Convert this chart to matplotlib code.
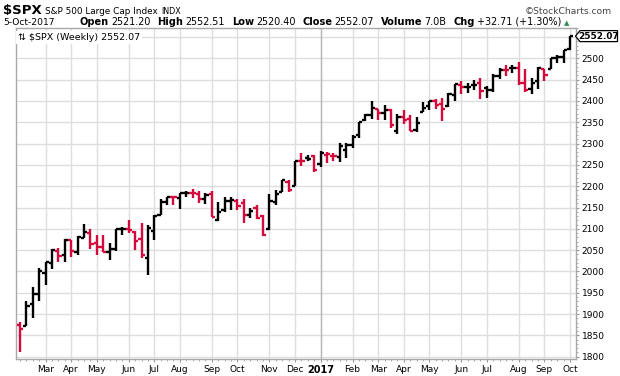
import numpy as np
import pandas as pd
import matplotlib
matplotlib.use('Agg')
import matplotlib.pyplot as plt
from matplotlib.patches import Polygon

# weekly bars of $SPX, dated by the last trading day of each week
dates = ['2016-02-12', '2016-02-19', '2016-02-26', '2016-03-04', '2016-03-11', '2016-03-18',
         '2016-03-24', '2016-04-01', '2016-04-08', '2016-04-15', '2016-04-22', '2016-04-29',
         '2016-05-06', '2016-05-13', '2016-05-20', '2016-05-27', '2016-06-03', '2016-06-10',
         '2016-06-17', '2016-06-24', '2016-07-01', '2016-07-08', '2016-07-15', '2016-07-22',
         '2016-07-29', '2016-08-05', '2016-08-12', '2016-08-19', '2016-08-26', '2016-09-02',
         '2016-09-09', '2016-09-16', '2016-09-23', '2016-09-30', '2016-10-07', '2016-10-14',
         '2016-10-21', '2016-10-28', '2016-11-04', '2016-11-11', '2016-11-18', '2016-11-25',
         '2016-12-02', '2016-12-09', '2016-12-16', '2016-12-23', '2016-12-30', '2017-01-06',
         '2017-01-13', '2017-01-20', '2017-01-27', '2017-02-03', '2017-02-10', '2017-02-17',
         '2017-02-24', '2017-03-03', '2017-03-10', '2017-03-17', '2017-03-24', '2017-03-31',
         '2017-04-07', '2017-04-13', '2017-04-21', '2017-04-28', '2017-05-05', '2017-05-12',
         '2017-05-19', '2017-05-26', '2017-06-02', '2017-06-09', '2017-06-16', '2017-06-23',
         '2017-06-30', '2017-07-07', '2017-07-14', '2017-07-21', '2017-07-28', '2017-08-04',
         '2017-08-11', '2017-08-18', '2017-08-25', '2017-09-01', '2017-09-08', '2017-09-15',
         '2017-09-22', '2017-09-29', '2017-10-05']

opens = [1873.25, 1871.44, 1924.44, 1947.13, 1996.11, 2019.27, 2047.63, 2037.89, 2073.19, 2045.54,
         2078.83, 2089.37, 2067.17, 2057.55, 2046.53, 2052.23, 2100.13, 2100.05, 2091.75, 2075.58,
         2030.77, 2095.05, 2131.72, 2162.04, 2173.71, 2173.15, 2183.08, 2183.74, 2182.24, 2170.19,
         2181.61, 2120.86, 2143.99, 2164.69, 2164.33, 2160.39, 2132.95, 2148.50, 2129.78, 2100.59,
         2163.36, 2186.85, 2210.21, 2200.17, 2259.24, 2266.50, 2270.54, 2251.57, 2273.59, 2269.96,
         2267.78, 2286.01, 2295.87, 2319.23, 2354.91, 2366.08, 2380.92, 2371.56, 2378.24, 2329.11,
         2362.34, 2357.16, 2332.62, 2374.15, 2388.50, 2399.94, 2393.98, 2387.21, 2414.50, 2436.39,
         2432.00, 2437.00, 2442.55, 2431.00, 2424.51, 2458.00, 2473.00, 2477.00, 2477.00, 2441.00,
         2427.00, 2447.00, 2474.00, 2474.52, 2500.60, 2503.00, 2521.20]

highs = [1881.60, 1930.68, 1962.96, 2009.13, 2022.37, 2052.36, 2056.00, 2075.07, 2074.02, 2083.06,
         2111.05, 2099.89, 2084.87, 2084.39, 2066.00, 2100.06, 2105.26, 2120.55, 2096.00, 2113.32,
         2108.71, 2131.71, 2169.05, 2175.63, 2177.09, 2182.87, 2188.45, 2193.81, 2187.94, 2184.87,
         2187.87, 2163.30, 2175.30, 2175.30, 2169.00, 2169.60, 2148.44, 2154.79, 2133.25, 2182.30,
         2189.89, 2213.35, 2214.10, 2259.80, 2277.53, 2273.82, 2273.39, 2282.10, 2279.27, 2276.96,
         2300.99, 2300.99, 2319.23, 2351.31, 2368.26, 2400.98, 2382.00, 2390.01, 2381.93, 2370.35,
         2378.36, 2366.37, 2361.37, 2398.16, 2399.29, 2403.87, 2405.77, 2418.71, 2440.23, 2446.20,
         2442.00, 2450.00, 2453.00, 2436.00, 2463.54, 2477.00, 2484.04, 2484.00, 2490.87, 2474.93,
         2454.00, 2480.00, 2474.50, 2500.23, 2508.85, 2519.44, 2552.51]

lows = [1810.10, 1871.44, 1891.00, 1931.81, 1969.25, 2005.00, 2022.49, 2022.49, 2033.80, 2039.74,
        2078.83, 2053.00, 2039.45, 2045.04, 2025.91, 2047.26, 2085.36, 2089.13, 2050.37, 2032.57,
        1991.68, 2074.02, 2131.72, 2154.79, 2157.00, 2147.58, 2175.52, 2172.00, 2160.39, 2157.09,
        2127.81, 2119.12, 2139.17, 2145.00, 2144.85, 2114.72, 2124.86, 2122.18, 2083.79, 2097.00,
        2156.08, 2186.85, 2187.44, 2200.17, 2248.44, 2258.84, 2233.62, 2245.13, 2254.25, 2258.41,
        2257.02, 2267.21, 2288.54, 2313.50, 2352.87, 2358.00, 2354.50, 2356.00, 2335.74, 2322.25,
        2344.73, 2328.95, 2327.00, 2374.15, 2378.00, 2381.00, 2352.72, 2386.00, 2401.00, 2415.70,
        2418.00, 2426.00, 2405.70, 2407.70, 2421.00, 2452.00, 2459.00, 2466.00, 2437.75, 2421.00,
        2417.35, 2428.00, 2446.00, 2474.52, 2488.00, 2488.00, 2520.40]

closes = [1864.78, 1917.78, 1948.05, 1999.99, 2022.19, 2049.58, 2035.94, 2072.78, 2047.60, 2080.73,
          2091.58, 2065.30, 2057.14, 2046.61, 2052.32, 2099.06, 2099.13, 2096.07, 2071.22, 2037.41,
          2102.95, 2129.90, 2161.74, 2175.03, 2173.60, 2182.87, 2184.05, 2183.87, 2169.04, 2179.98,
          2127.81, 2139.16, 2164.69, 2168.27, 2153.74, 2132.98, 2141.16, 2126.41, 2085.18, 2164.45,
          2181.90, 2213.35, 2191.95, 2259.53, 2258.07, 2263.79, 2238.83, 2276.98, 2274.64, 2271.31,
          2294.69, 2297.42, 2316.10, 2351.16, 2367.34, 2383.12, 2372.60, 2378.25, 2343.98, 2362.72,
          2355.54, 2328.95, 2348.69, 2384.20, 2399.29, 2390.90, 2381.73, 2415.82, 2439.07, 2431.77,
          2433.15, 2438.30, 2423.41, 2425.18, 2459.27, 2472.54, 2472.10, 2476.83, 2441.32, 2425.55,
          2443.05, 2476.55, 2461.43, 2500.23, 2502.22, 2519.36, 2552.07]

y_ticks = list(range(1800, 2551, 50))

hdr_date = '5-Oct-2017'
hdr_fields = [('Open', '2521.20'), ('High', '2552.51'), ('Low', '2520.40'),
              ('Close', '2552.07'), ('Volume', '7.0B'), ('Chg', '+32.71 (+1.30%)')]
last_close = closes[-1]

RED = '#d4093c'
GRID = '#dedede'

W, H = 620, 376
def fx(px):
    return px / W
def fy(py):
    return 1 - py / H

fig = plt.figure(figsize=(6.2, 3.76), dpi=100)
ax = fig.add_axes([fx(16), fy(359.3), (576 - 16) / W, (359.3 - 28) / H])

x = np.arange(len(closes))
o = np.array(opens); h = np.array(highs); l = np.array(lows); c = np.array(closes)
prev = np.r_[o[0], c[:-1]]
cols = np.where(c >= prev, 'black', RED)

ax.vlines(x, l, h, colors=cols, lw=1.7, zorder=3)
ax.hlines(o, x - 0.5, x, colors=cols, lw=1.7, zorder=3)
ax.hlines(c, x, x + 0.5, colors=cols, lw=1.7, zorder=3)

ax.set_xlim(-0.625, 86.94)
ax.set_ylim(1793.9, 2571.1)

# month gridlines at the first week whose Monday falls in a new month
d = pd.to_datetime(pd.Series(dates))
mondays = d - pd.to_timedelta(d.dt.weekday, unit='D')
m = mondays.dt.month.values
tick_idx = [i for i in range(1, len(m)) if m[i] != m[i - 1]]
tick_lab = [str(mondays[i].year) if mondays[i].month == 1 else mondays[i].strftime('%b')
            for i in tick_idx]

ax.set_xticks(tick_idx)
ax.set_xticklabels(tick_lab)
ax.set_xticks(x, minor=True)
ax.yaxis.tick_right()
ax.set_yticks(y_ticks)
ax.set_yticklabels([str(v) if v < 2550 else '' for v in y_ticks])
ax.set_yticks(np.arange(1800, 2571, 10), minor=True)

ax.set_axisbelow(True)
ax.grid(True, which='major', color=GRID, lw=1)
for i, lab in zip(tick_idx, tick_lab):
    if lab.isdigit():
        ax.axvline(i, color='#b8b8b8', lw=1, zorder=0.6)

ax.tick_params(which='both', colors='#999999', labelcolor='black', labelsize=6.5, pad=2)
ax.tick_params(axis='x', which='major', length=2.5, pad=1.5)
ax.tick_params(which='minor', length=1.5)
ax.tick_params(axis='y', which='major', length=2)
for t in ax.get_xticklabels():
    if t.get_text().isdigit():
        t.set_fontweight('bold')
        t.set_fontsize(7)
for s in ax.spines.values():
    s.set_color('#a8a8a8')
    s.set_linewidth(1)

# legend line inside the chart
ax.text(fx(18), fy(40), '\u21c5 \\$SPX (Weekly) %.2f' % last_close, transform=fig.transFigure,
        fontsize=6.8, va='baseline', ha='left', zorder=5,
        bbox=dict(fc='white', ec='none', pad=1.2))

# last value marker on the price axis
ylast = ax.transData.transform((0, last_close))[1]
py = H - ylast
pts = [(575.5, py), (580, py - 5.5), (617.5, py - 5.5), (617.5, py + 5.5), (580, py + 5.5)]
fig.patches.append(Polygon([(fx(a), fy(b)) for a, b in pts], closed=True, fc='white',
                           ec='black', lw=0.9, transform=fig.transFigure))
fig.text(fx(599), fy(py), '%.2f' % last_close, fontsize=6.4, fontweight='bold',
         ha='center', va='center')

# header
renderer = fig.canvas.get_renderer()

def put(px, py_base, s, **kw):
    t = fig.text(fx(px), fy(py_base), s, va='baseline', ha='left', **kw)
    return px + t.get_window_extent(renderer).width

fig.text(fx(3), fy(14), '\\$SPX', fontsize=9.5, fontweight='bold', va='baseline')
nx = put(45, 14, 'S&P 500 Large Cap Index', fontsize=6.4)
put(nx + 4, 14, 'INDX', fontsize=5.8)
fig.text(fx(612), fy(14), '\u00a9StockCharts.com', fontsize=6.6, color='#444444',
         ha='right', va='baseline')

put(3, 25, hdr_date, fontsize=6.6)
nx = 80
for lab, val in hdr_fields:
    nx = put(nx, 25, lab, fontsize=7.1, fontweight='bold')
    nx = put(nx + 2, 25, val, fontsize=6.9) + 7
put(nx - 4, 25, '\u25b2', fontsize=5, color='#2e8b57')

fig.savefig('out.png', dpi=100)
